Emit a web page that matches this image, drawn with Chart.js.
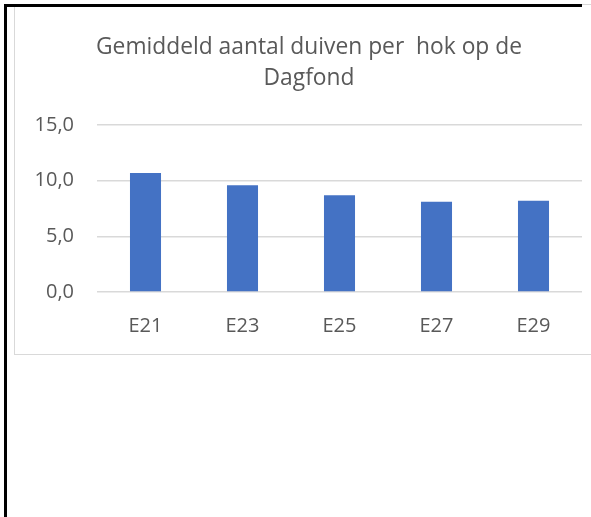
<!DOCTYPE html>
<html>
<head>
<meta charset="utf-8">
<script src="https://cdn.jsdelivr.net/npm/chart.js@4"></script>
<style>
  html, body { margin: 0; padding: 0; background: #fff; }
  #wrap { position: relative; width: 591px; height: 517px; overflow: hidden; }
  #c { position: absolute; left: 0; top: 0; }
  .frameGrey { position: absolute; left: 14px; top: 4px; width: 600px; height: 351px; border: 1.5px solid #D9D9D9; box-sizing: border-box; }
  .blackLeft { position: absolute; left: 4px; top: 4px; width: 3px; height: 520px; background: #000; }
  .blackTop { position: absolute; left: 4px; top: 4px; width: 578px; height: 3px; background: #000; }
</style>
</head>
<body>
<div id="wrap">
  <div class="frameGrey"></div>
  <canvas id="c" width="591" height="517"></canvas>
  <div class="blackLeft"></div>
  <div class="blackTop"></div>
</div>
<script>
const categories = ['E21', 'E23', 'E25', 'E27', 'E29'];
const values = [10.7, 9.6, 8.7, 8.1, 8.2];
const yTickValues = [0, 5, 10, 15];
const yTickLabels = ['0,0', '5,0', '10,0', '15,0'];
const titleLines = ['Gemiddeld aantal duiven per  hok op de', 'Dagfond'];

const FONT = "'Open Sans', 'Liberation Sans', sans-serif";
const TEXT = '#595959';

const shiftTitle = {
  id: 'shiftTitle',
  afterLayout(chart) {
    if (chart.titleBlock) { chart.titleBlock.left += 36; }
  }
};

new Chart(document.getElementById('c'), {
  type: 'bar',
  data: {
    labels: categories,
    datasets: [{
      data: values,
      backgroundColor: '#4472C4',
      borderWidth: 0,
      categoryPercentage: 1,
      barPercentage: 0.32
    }]
  },
  plugins: [shiftTitle],
  options: {
    responsive: false,
    animation: false,
    events: [],
    layout: { padding: { top: 16, right: 9, bottom: 165, left: 0 } },
    plugins: {
      legend: { display: false },
      tooltip: { enabled: false },
      title: {
        display: true,
        text: titleLines,
        color: TEXT,
        font: { family: FONT, size: 22.8, weight: 'normal', lineHeight: 1.36 },
        padding: { top: 16, bottom: 31 }
      }
    },
    scales: {
      x: {
        grid: { display: false, drawTicks: false },
        border: { display: false },
        ticks: { color: TEXT, font: { family: FONT, size: 20 }, padding: 22 },
        afterFit(s) { s.height = 60; }
      },
      y: {
        min: 0, max: 15,
        afterBuildTicks(s) { s.ticks = yTickValues.map(v => ({ value: v })); },
        grid: { color: '#D9D9D9', lineWidth: 1.5, drawTicks: false },
        border: { display: false },
        ticks: {
          color: TEXT,
          font: { family: FONT, size: 20 },
          padding: 23,
          callback(v) { const i = yTickValues.indexOf(v); return i >= 0 ? yTickLabels[i] : ''; }
        },
        afterFit(s) { s.width = 97; }
      }
    }
  }
});
</script>
</body>
</html>
